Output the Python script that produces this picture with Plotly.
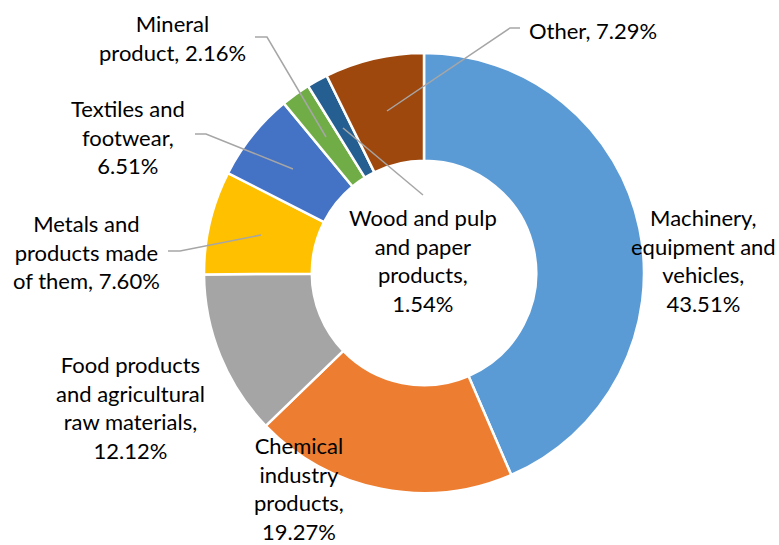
import plotly.graph_objects as go

# Export structure by product group, percent of total
categories = [
    "Machinery, equipment and vehicles",
    "Chemical industry products",
    "Food products and agricultural raw materials",
    "Metals and products made of them",
    "Textiles and footwear",
    "Mineral product",
    "Wood and pulp and paper products",
    "Other",
]
shares = [43.51, 19.27, 12.12, 7.60, 6.51, 2.16, 1.54, 7.29]
colors = ["#5B9BD5", "#ED7D31", "#A5A5A5", "#FFC000",
          "#4472C4", "#70AD47", "#255E91", "#9E480E"]

# Label text (line-broken) for each slice
label_lines = [
    ["Machinery,", "equipment and", "vehicles,"],
    ["Chemical", "industry", "products,"],
    ["Food products", "and agricultural", "raw materials,"],
    ["Metals and", "products made", "of them,"],
    ["Textiles and", "footwear,"],
    ["Mineral", "product,"],
    ["Wood and pulp", "and paper", "products,"],
    ["Other,"],
]

W, H = 779, 545
# label anchor (centre) in pixels and leader polyline in pixels
label_pos = [
    (703, 260), (299, 488), (130, 407), (86, 252),
    (128, 137), (172, 38), (423, 260), (593, 30),
]
leaders = [
    None,
    None,
    None,
    [(168, 251), (180, 251), (261, 235)],
    [(195, 134), (206, 134), (293, 169)],
    [(255, 37), (267, 37), (326, 137)],
    [(343, 128), (423, 195)],
    [(520, 28), (510, 28), (387, 111)],
]


def px(x, y):
    return x / W, 1 - y / H


fig = go.Figure()
cx, cy, r = 424, 273, 220
fig.add_trace(go.Pie(
    labels=categories,
    values=shares,
    sort=False,
    direction="clockwise",
    rotation=0,
    hole=0.51,
    marker=dict(colors=colors, line=dict(color="white", width=2.5)),
    textinfo="none",
    hoverinfo="label+percent",
    showlegend=False,
    domain=dict(x=[(cx - r) / W, (cx + r) / W],
                y=[1 - (cy + r) / H, 1 - (cy - r) / H]),
))

annotations = []
for lines, val, (x, y), in zip(label_lines, shares, label_pos):
    if len(lines) == 1:
        text = f"{lines[0]} {val:.2f}%"
    elif lines[-1] in ("product,", "of them,"):
        text = "<br>".join(lines[:-1] + [f"{lines[-1]} {val:.2f}%"])
    else:
        text = "<br>".join(lines + [f"{val:.2f}%"])
    ax, ay = px(x, y)
    annotations.append(dict(
        x=ax, y=ay, xref="paper", yref="paper", text=text,
        showarrow=False, xanchor="center", yanchor="middle", align="center",
        font=dict(family="Lato, Carlito, Calibri, sans-serif", size=22, color="#000000"),
    ))

shapes = []
for pts in leaders:
    if not pts:
        continue
    path = "M " + " L ".join(f"{px(x, y)[0]:.5f},{px(x, y)[1]:.5f}" for x, y in pts)
    shapes.append(dict(type="path", path=path, xref="paper", yref="paper",
                       line=dict(color="#A6A6A6", width=1.5)))

fig.update_layout(
    width=W, height=H,
    margin=dict(l=0, r=0, t=0, b=0),
    paper_bgcolor="white", plot_bgcolor="white",
    annotations=annotations,
    shapes=shapes,
)

fig.write_html("out.html")
